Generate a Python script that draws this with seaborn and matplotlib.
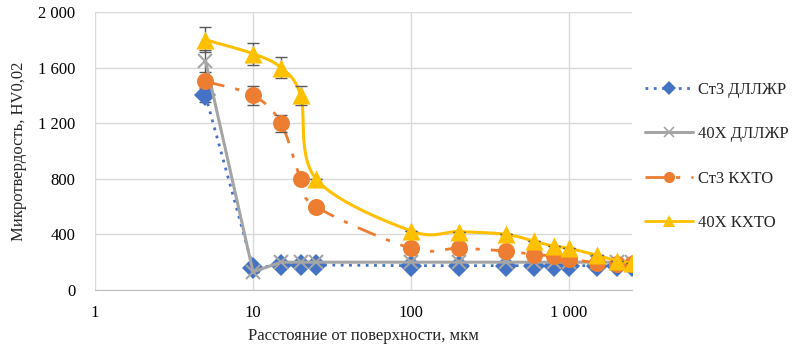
import numpy as np
import seaborn as sns
import matplotlib.pyplot as plt
from matplotlib.lines import Line2D
from matplotlib.ticker import FixedLocator, FuncFormatter, NullLocator

# distance from surface, um
depth = [5, 10, 15, 20, 25, 100, 200, 400, 600, 800, 1000, 1500, 2000, 2500]

st3_dlzhr = [1400, 160, 180, 180, 180, 175, 175, 175, 175, 175, 175, 175, 175, 175]
x40_dlzhr = [1650, 130, 200, 200, 200, 200, 200, 200, 200, 200, 200, 200, 200, 200]
st3_khto = [1500, 1400, 1200, 800, 600, 300, 300, 280, 255, 245, 225, 195, 190, 190]
x40_khto = [1800, 1700, 1600, 1400, 800, 425, 420, 400, 350, 315, 300, 250, 210, 195]

# error bars (only first points carry them)
err_st3_dlzhr = [50, 0, 0, 0, 0, 0, 0, 0, 0, 0, 0, 0, 0, 0]
err_x40_dlzhr = [80, 0, 0, 0, 0, 0, 0, 0, 0, 0, 0, 0, 0, 0]
err_st3_khto = [0, 70, 60, 0, 0, 0, 0, 0, 0, 0, 0, 0, 0, 0]
err_x40_khto = [90, 80, 75, 70, 0, 0, 0, 0, 0, 0, 0, 0, 0, 0]

labels = ['Ст3 ДЛЛЖР', '40Х ДЛЛЖР', 'Ст3 КХТО', '40Х КХТО']
colors = ['#4472C4', '#A5A5A5', '#ED7D31', '#FFC000']


def smooth(x, y, n=30):
    # excel-like smoothed line: catmull-rom in (log x, y)
    u = np.log10(np.asarray(x, float))
    v = np.asarray(y, float)
    pu = np.concatenate([[u[0]], u, [u[-1]]])
    pv = np.concatenate([[v[0]], v, [v[-1]]])
    us, vs = [], []
    t = np.linspace(0, 1, n)
    for i in range(1, len(pu) - 2):
        for p, out in ((pu, us), (pv, vs)):
            p0, p1, p2, p3 = p[i - 1], p[i], p[i + 1], p[i + 2]
            out.extend(0.5 * ((2 * p1) + (-p0 + p2) * t
                              + (2 * p0 - 5 * p1 + 4 * p2 - p3) * t ** 2
                              + (-p0 + 3 * p1 - 3 * p2 + p3) * t ** 3))
    return 10 ** np.array(us), np.array(vs)


sns.set_style('white')
plt.rcParams['font.family'] = ['Liberation Serif', 'DejaVu Serif']

fig = plt.figure(figsize=(7.96, 3.52), dpi=100)
ax = fig.add_axes([95 / 796, 1 - 290 / 352, 537 / 796, 278 / 352])

ebkw = dict(fmt='none', ecolor='#595959', elinewidth=1, capsize=4, capthick=1)

# Ст3 ДЛЛЖР
sns.lineplot(x=depth, y=st3_dlzhr, ax=ax, color=colors[0], lw=2,
             linestyle=(0, (1, 2)), marker='D', markersize=11,
             markeredgewidth=0, zorder=3)
ax.errorbar(depth, st3_dlzhr, yerr=err_st3_dlzhr, zorder=2, **ebkw)

# 40Х ДЛЛЖР
sns.lineplot(x=depth, y=x40_dlzhr, ax=ax, color=colors[1], lw=2.2,
             marker='x', markersize=10.5, markeredgewidth=1.5,
             markeredgecolor=colors[1], zorder=4)
ax.errorbar(depth, x40_dlzhr, yerr=err_x40_dlzhr, zorder=2, **ebkw)

# Ст3 КХТО
sx, sy = smooth(depth, st3_khto)
ax.plot(sx, sy, color=colors[2], lw=2, linestyle=(0, (7, 4, 1.5, 4)), zorder=5)
sns.scatterplot(x=depth, y=st3_khto, ax=ax, color=colors[2], marker='o',
                s=150, linewidth=0, zorder=6)
ax.errorbar(depth, st3_khto, yerr=err_st3_khto, zorder=5, **ebkw)

# 40Х КХТО
sx, sy = smooth(depth, x40_khto)
ax.plot(sx, sy, color=colors[3], lw=2.2, zorder=7)
sns.scatterplot(x=depth, y=x40_khto, ax=ax, color=colors[3], marker='^',
                s=170, linewidth=0, zorder=8)
ax.errorbar(depth, x40_khto, yerr=err_x40_khto, zorder=7, **ebkw)

ax.set_xscale('log')
ax.set_xlim(1, 2500)
ax.set_ylim(0, 2000)
ax.xaxis.set_major_locator(FixedLocator([1, 10, 100, 1000]))
ax.xaxis.set_minor_locator(NullLocator())
ax.set_yticks([0, 400, 800, 1200, 1600, 2000])
fmt = FuncFormatter(lambda v, p: f'{int(v):,}'.replace(',', ' '))
ax.xaxis.set_major_formatter(fmt)
ax.yaxis.set_major_formatter(fmt)
ax.tick_params(labelsize=12, length=0, colors='black')
ax.tick_params(axis='x', pad=11)
ax.tick_params(axis='y', pad=14)

ax.grid(True, color='#D9D9D9', lw=1)
ax.set_axisbelow(True)
for s in ['top', 'right', 'left']:
    ax.spines[s].set_visible(False)
ax.spines['bottom'].set_color('#BFBFBF')

ax.set_xlabel('Расстояние от поверхности, мкм', fontsize=12, labelpad=5)
ax.set_ylabel('Микротвердость, HV0,02', fontsize=12, labelpad=8)

handles = [
    Line2D([], [], color=colors[0], lw=2, linestyle=(0, (1, 2)), marker='D',
           markersize=7, markeredgewidth=0),
    Line2D([], [], color=colors[1], lw=2.2, marker='x', markersize=7,
           markeredgewidth=1.2),
    Line2D([], [], color=colors[2], lw=2, linestyle=(0, (7, 4, 1.5, 4)),
           marker='o', markersize=8, markeredgewidth=0),
    Line2D([], [], color=colors[3], lw=2, marker='^', markersize=8,
           markeredgewidth=0),
]
fig.legend(handles, labels, loc='upper left', bbox_to_anchor=(630 / 796, 1 - 67 / 352),
           frameon=False, fontsize=12, labelspacing=1.7, handlelength=2.9,
           handletextpad=0.3)

fig.savefig('out.png', dpi=100)
